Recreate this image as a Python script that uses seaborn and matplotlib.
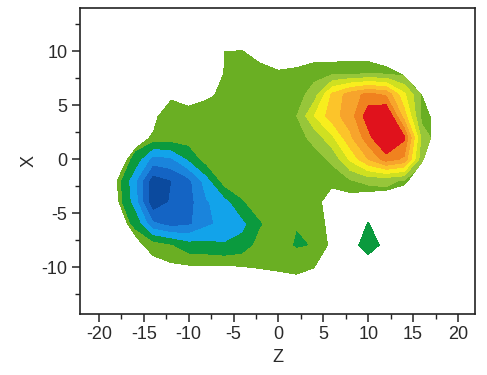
import numpy as np
import matplotlib
matplotlib.use("Agg")
import matplotlib.pyplot as plt
from matplotlib.ticker import MultipleLocator, FixedLocator
import seaborn as sns

# Grid nodes (Z across, X down the rows from top to bottom)
z_nodes = [-22, -20, -18, -16, -14, -12, -10, -8, -6, -4, -2, 0, 2, 4, 6, 8, 10, 12, 14, 16, 18, 20, 22]
x_rows = [14, 12, 10, 8, 6, 4, 2, 0, -2, -4, -6, -8, -10, -12, -14]

# Field value at each node (green plateau ~0.5, blue basin negative, red peak positive)
level_field = [
    [.5, .5, .5, .5, .5, .5, .5, .5, .5, .5, .5, .5, .5, .5, .5, .5, .5, .5, .5, .5, .5, .5, .5],
    [.5, .5, .5, .5, .5, .5, .5, .5, .5, .5, .5, .5, .5, .5, .5, .5, .5, .5, .5, .5, .5, .5, .5],
    [.5, .5, .5, .5, .5, .5, .5, .5, .5, .5, .5, .5, .5, .5, .5, .5, .5, .5, .5, .5, .5, .5, .5],
    [.5, .5, .5, .5, .5, .5, .5, .5, .5, .5, .5, .5, .5, .6, .7, .7, .7, .7, .6, .5, .5, .5, .5],
    [.5, .5, .5, .5, .5, .5, .5, .5, .5, .5, .5, .5, .5, 1.5, 4.2, 5.5, 6.3, 5.8, 3.2, .8, .5, .5, .5],
    [.5, .5, .5, .5, .5, .5, .5, .5, .5, .5, .5, .5, .95, 3.0, 4.6, 5.5, 7.6, 8.3, 4.5, .6, .3, .5, .5],
    [.5, .5, .5, .5, .5, .5, .5, .5, .5, .5, .5, .5, .6, 1.3, 2.8, 4.8, 6.6, 8.6, 7.2, 1.6, .3, .5, .5],
    [.5, .5, .8, -.3, -2.4, -2.2, -.9, .5, .5, .5, .5, .5, .5, .6, 1.2, 3.2, 5.0, 6.5, 5.8, 1.2, .3, .5, .5],
    [.5, .5, .5, -1.8, -4.6, -4.05, -3.3, -1.5, .5, .5, .5, .5, .5, .5, .5, .9, 1.3, 1.2, .9, .5, .5, .5, .5],
    [.5, .5, .5, -1.5, -4.8, -3.9, -3.4, -2.1, -1.5, -.1, .5, .5, .5, .5, .5, .5, -.2, .5, .5, .5, .5, .5, .5],
    [.5, .5, .5, -.2, -2.8, -3.4, -3.2, -2.2, -1.7, -1.3, -.1, .5, .05, .3, .5, -.5, -.5, -.5, .5, .5, .5, .5, .5],
    [.5, .5, .5, .5, .5, .05, -.6, -.7, -.9, -.6, .4, .5, -.15, .05, .5, -.5, -.5, -.5, .5, .5, .5, .5, .5],
    [.5, .5, .5, .5, .5, .9, .9, .9, .9, .9, .7, .5, .9, .5, .5, -.5, -.5, -.5, .5, .5, .5, .5, .5],
    [.5, .5, .5, .5, .5, .5, .5, .5, .5, .5, .5, .5, .5, .5, .5, .5, .5, .5, .5, .5, .5, .5, .5],
    [.5, .5, .5, .5, .5, .5, .5, .5, .5, .5, .5, .5, .5, .5, .5, .5, .5, .5, .5, .5, .5, .5, .5],
]

# Sampling coverage at each node (region with data where > 0.5)
coverage = [
    [0, 0, 0, 0, 0, 0, 0, 0, 0, 0, 0, 0, 0, 0, 0, 0, 0, 0, 0, 0, 0, 0, 0],
    [0, 0, 0, 0, 0, 0, 0, 0, 0, .05, 0, 0, 0, 0, 0, 0, 0, 0, 0, 0, 0, 0, 0],
    [0, 0, 0, 0, 0, 0, 0, .05, .52, .53, .33, .05, .25, .27, .27, .27, .27, .2, .03, 0, 0, 0, 0],
    [0, 0, 0, 0, 0, 0, 0, .05, .55, 1, .67, .59, .6, .75, .77, .79, .8, .65, .47, .19, 0, 0, 0],
    [0, 0, 0, 0, .3, .4, .25, .4, .65, 1, 1, 1, 1, 1, 1, 1, 1, 1, .93, .51, .14, 0, 0],
    [0, 0, 0, 0, .38, .88, .75, .88, 1, 1, 1, 1, 1, 1, 1, 1, 1, 1, 1, .74, .26, 0, 0],
    [0, 0, 0, .33, .56, .96, 1, 1, 1, 1, 1, 1, 1, 1, 1, 1, 1, 1, 1, .77, .28, 0, 0],
    [0, 0, .29, .7, 1, 1, 1, 1, 1, 1, 1, 1, 1, 1, 1, 1, 1, 1, 1, .57, .13, 0, 0],
    [0, 0, .52, 1, 1, 1, 1, 1, 1, 1, 1, 1, 1, .65, .67, .8, .77, .75, .6, .27, 0, 0, 0],
    [0, 0, .47, .97, 1, 1, 1, 1, 1, 1, 1, 1, 1, .73, .23, .3, .27, .25, .2, 0, 0, 0, 0],
    [0, 0, .29, .69, 1, 1, 1, 1, 1, 1, 1, 1, 1, .81, .32, .18, .55, .18, 0, 0, 0, 0, 0],
    [0, 0, 0, .37, .7, .92, 1, 1, 1, 1, 1, 1, 1, .9, .4, .3, .8, .37, 0, 0, 0, 0, 0],
    [0, 0, 0, 0, .32, .42, .48, .48, .48, .51, .56, .62, .69, .53, .17, .15, .2, .15, 0, 0, 0, 0, 0],
    [0, 0, 0, 0, 0, 0, 0, 0, 0, 0, .06, .12, .19, .22, .05, 0, 0, 0, 0, 0, 0, 0, 0],
    [0, 0, 0, 0, 0, 0, 0, 0, 0, 0, 0, 0, 0, 0, 0, 0, 0, 0, 0, 0, 0, 0, 0],
]

band_edges = [-10, -4, -3, -2, -1, 0, 1, 2, 3, 4, 5, 6, 7, 10]
band_colors = ["#0b4a9e", "#1464c4", "#1a84dc", "#12a3ea", "#0b9a3e", "#6aaf23",
               "#97c63a", "#cfe021", "#f8ee1d", "#fcc42a", "#f7a42c", "#f0821f", "#e0121c"]

z_ticks = [-20, -15, -10, -5, 0, 5, 10, 15, 20]
x_ticks = [-10, -5, 0, 5, 10]

sns.set_theme(style="ticks")
plt.rcParams["font.family"] = ["Liberation Sans", "DejaVu Sans"]
plt.rcParams["axes.unicode_minus"] = False

fig = plt.figure(figsize=(4.87, 3.75), dpi=100)
ax = fig.add_axes([0.1643, 0.1627, 0.8111, 0.816])

zg, xg = np.meshgrid(np.array(z_nodes, float), np.array(x_rows, float)[::-1])
field = np.array(level_field, float)[::-1]
cover = np.array(coverage, float)[::-1]

palette = sns.color_palette(band_colors)
ax.contourf(zg, xg, field, levels=band_edges, colors=palette)
ax.contourf(zg, xg, cover, levels=[-1, 0.5], colors=["white"])

ax.set_xlim(-22.1, 21.9)
ax.set_ylim(-14.35, 14.0)
ax.xaxis.set_major_locator(FixedLocator(z_ticks))
ax.yaxis.set_major_locator(FixedLocator(x_ticks))
ax.xaxis.set_minor_locator(MultipleLocator(2.5))
ax.yaxis.set_minor_locator(MultipleLocator(2.5))

for side in ["left", "right", "top", "bottom"]:
    ax.spines[side].set_visible(True)
    ax.spines[side].set_color("#222222")
    ax.spines[side].set_linewidth(1.2)

ax.tick_params(axis="both", which="major", direction="out", length=6, width=1.1,
               color="#222222", labelsize=13, labelcolor="#2a2a2a", pad=3)
ax.tick_params(axis="both", which="minor", direction="out", length=3.5, width=1.0,
               color="#222222")
ax.tick_params(top=False, right=False, which="both")

ax.set_xlabel("Z", fontsize=13, color="#2a2a2a", labelpad=4)
ax.set_ylabel("X", fontsize=13, color="#2a2a2a", labelpad=3)

fig.savefig("out.png", dpi=100, facecolor="white")
